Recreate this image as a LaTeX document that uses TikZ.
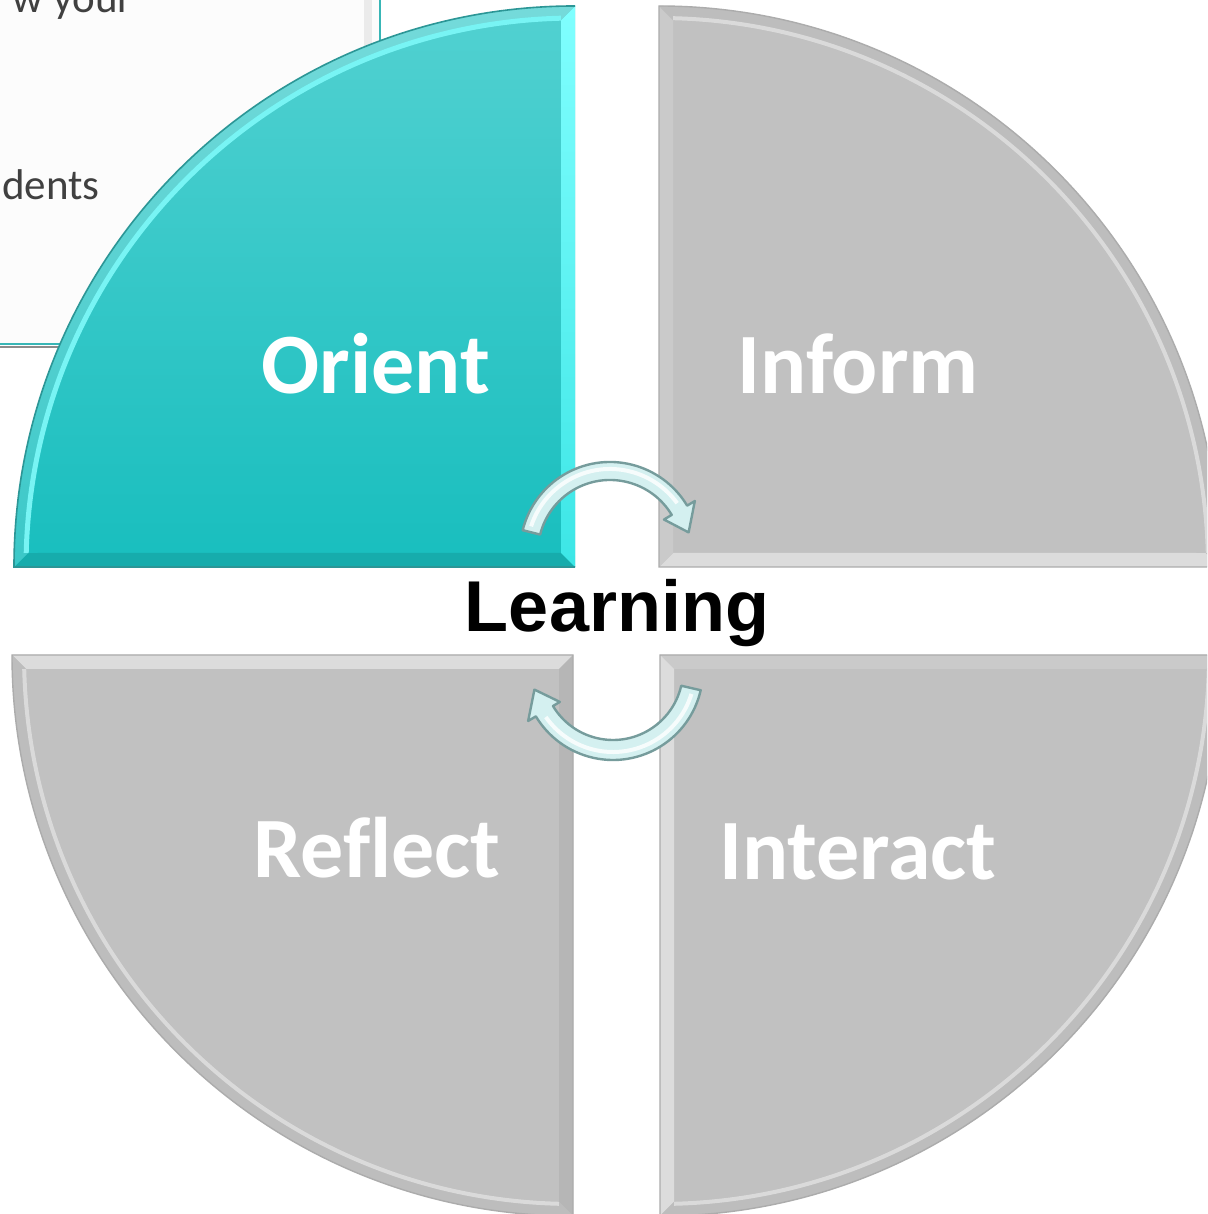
\documentclass[tikz,border=0pt]{standalone}
\usepackage{fontspec}
\setmainfont{Carlito}[Ligatures=CommonOff]
\newfontfamily\arialfont{Liberation Sans}
\usetikzlibrary{calc,math}
\definecolor{tealtop}{RGB}{82,209,209}
\definecolor{tealbot}{RGB}{24,190,190}
\definecolor{tealrim}{RGB}{44,150,150}
\definecolor{tealdark}{RGB}{22,172,172}
\definecolor{tealhi}{RGB}{128,255,255}
\definecolor{tealhilo}{RGB}{60,230,230}
\definecolor{tealshine}{RGB}{120,244,244}
\definecolor{boxline}{RGB}{56,182,182}
\definecolor{graybody}{RGB}{193,193,193}
\definecolor{grayband}{RGB}{189,189,189}
\definecolor{grayrim}{RGB}{172,172,172}
\definecolor{graylight}{RGB}{220,220,220}
\definecolor{graymid}{RGB}{202,202,202}
\definecolor{graydark}{RGB}{182,182,182}
\definecolor{swirlfill}{RGB}{212,240,240}
\definecolor{swirlline}{RGB}{118,156,156}
\definecolor{boxtext}{RGB}{64,64,64}
\tikzset{
petal label/.style={text=white,font=\fontsize{43}{43}\selectfont\bfseries,anchor=base,inner sep=0pt},
hub label/.style={text=black,font=\arialfont\fontsize{36}{36}\selectfont\bfseries,anchor=base,inner sep=0pt},
box text/.style={text=boxtext,font=\fontsize{21.5}{21.5}\selectfont,anchor=base east,inner sep=0pt},
swirl/.style={fill=swirlfill,draw=swirlline,line width=1.2pt,line join=round},
swirl shine/.style={white,line width=2pt,opacity=0.8}
}

\begin{document}
\begin{tikzpicture}[x=0.5pt,y=0.5pt]
	\tikzmath{\R = 561; \d = 14; \Ri = \R - \d; \a = asin(\d/\Ri);} %petal radius and bevel
	\clip (0,0) rectangle (1207,1214);
	\fill[white] (0,0) rectangle (1207,1214);
	
	%text box behind the orient petal
	\fill[black!1] (-10,870) rectangle (380,1224);
	\fill[black!8] (364,870) rectangle (372,1224);
	\draw[black!45,line width=0.8pt] (-10,867) -- (380,867);
	\draw[boxline,line width=1.3pt] (-10,870) -- (380,870) -- (380,1224);
	\node[box text] (wyour) at (133,1201) {w your};
	\node[box text] (dents) at (100,1014) {dents};
	
	%orient petal
	\begin{scope}[shift={(575,647)}]
		\path[top color=tealtop,bottom color=tealbot] (0,0) -- (-\R,0) arc[start angle=180,end angle=90,radius=\R] -- cycle;
		\fill[tealdark] (0,0) -- (-\R,0) -- (180-\a:\Ri) -- (-\d,\d) -- cycle;
		\path[top color=tealhi,bottom color=tealhilo] (0,0) -- (-\d,\d) -- (90+\a:\Ri) -- (0,\R) -- cycle;
		\path[top color=tealtop!80!white,bottom color=tealbot!85!white] (-\R,0) arc[start angle=180,end angle=90,radius=\R] -- (90+\a:\Ri) arc[start angle=90+\a,end angle=180-\a,radius=\Ri] -- cycle;
		\draw[tealshine,line width=2.5pt] (90+\a:\Ri+2) arc[start angle=90+\a,end angle=180-\a,radius=\Ri+2];
		\draw[tealrim,line width=0.8pt] (0,0) -- (-\R,0) arc[start angle=180,end angle=90,radius=\R];
	\end{scope}
	
	%gray petals
	\foreach \cx/\cy/\sx/\sy/\ca/\cb in {659/647/-1/1/graylight/graymid, 573/559/1/-1/graylight/graydark, 660/559/-1/-1/graymid/graylight}{
		\begin{scope}[shift={(\cx,\cy)},xscale=\sx,yscale=\sy]
			\fill[graybody] (0,0) -- (-\R,0) arc[start angle=180,end angle=90,radius=\R] -- cycle;
			\fill[\ca] (0,0) -- (-\R,0) -- (180-\a:\Ri) -- (-\d,\d) -- cycle;
			\fill[\cb] (0,0) -- (-\d,\d) -- (90+\a:\Ri) -- (0,\R) -- cycle;
			\fill[grayband] (-\R,0) arc[start angle=180,end angle=90,radius=\R] -- (90+\a:\Ri) arc[start angle=90+\a,end angle=180-\a,radius=\Ri] -- cycle;
			\draw[white,opacity=0.45,line width=2pt] (90+\a:\Ri+2) arc[start angle=90+\a,end angle=180-\a,radius=\Ri+2];
			\draw[grayrim,line width=0.7pt] (0,0) -- (-\R,0) arc[start angle=180,end angle=90,radius=\R] -- cycle;
		\end{scope}
	}
	
	%cycle arrows
	\coordinate (tophub) at (610,662);
	\coordinate (lowhub) at (613,544);
	\begin{scope}[shift={(tophub)}]
		\path[swirl] (166:90) arc[start angle=166,end angle=31,radius=90] -- (31:99) -- (14:81) -- (31:63) -- (31:72) arc[start angle=31,end angle=166,radius=72] -- cycle;
		\draw[swirl shine] (162:83) arc[start angle=162,end angle=36,radius=83];
	\end{scope}
	\begin{scope}[shift={(lowhub)}]
		\path[swirl] (-13:90) arc[start angle=-13,end angle=-149,radius=90] -- (-149:99) -- (-166:81) -- (-149:62) -- (-149:70) arc[start angle=-149,end angle=-13,radius=70] -- cycle;
		\draw[swirl shine] (-17:82) arc[start angle=-17,end angle=-145,radius=82];
	\end{scope}
	
	%labels
	\node[petal label] (orient) at (376,820) {Orient};
	\node[petal label] (inform) at (858,820) {Inform};
	\node[petal label] (reflect) at (377,336) {Reflect};
	\node[petal label] (interact) at (858,334) {Interact};
	\node[hub label] (learning) at (617,582) {Learning};
\end{tikzpicture}
\end{document}
